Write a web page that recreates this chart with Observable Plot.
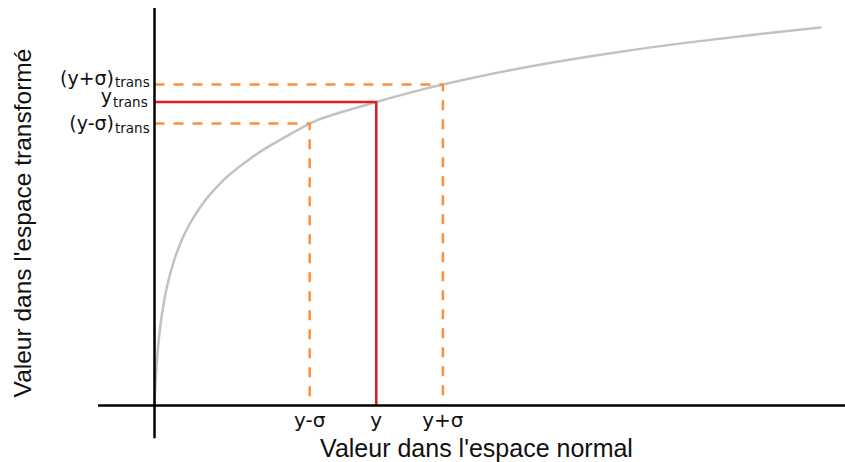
<!DOCTYPE html>
<html><head><meta charset="utf-8">
<script src="https://cdn.jsdelivr.net/npm/d3@7"></script>
<script src="https://cdn.jsdelivr.net/npm/@observablehq/plot@0.6"></script>
<style>html,body{margin:0;padding:0;background:#fff;} #chart svg{display:block;}</style>
</head><body><div id="chart"></div>
<script>
// Curve (normal value -> transformed value)
const curveX = [0, 0.1, 0.25, 0.5, 1, 1.5, 2, 3, 4, 5, 7, 10, 15, 20, 23.3, 30, 33.3, 40, 43.3, 50, 60, 70, 80, 90, 100];
const curveY = [0, 4.0, 8.8, 14.7, 22.7, 28.2, 32.4, 38.7, 43.4, 47.1, 52.8, 59.0, 66.1, 71.4, 74.6, 78.6, 80.3, 83.5, 84.9, 87.5, 90.8, 93.6, 96.0, 98.1, 100];
// Marked points: y-σ, y, y+σ
const xTickLabels = ["y-σ", "y", "y+σ"];
const xValues = [23.3, 33.3, 43.3];
const yValues = [74.6, 80.3, 84.9];
const yTickLabels = ["(y-σ)", "y", "(y+σ)"];
const yTickSubs = ["trans", "trans", "trans"];
const xTitle = "Valeur dans l'espace normal";
const yTitle = "Valeur dans l'espace transformé";

const curve = curveX.map((x, i) => ({x, y: curveY[i]}));
const RED = "#e41a1c", ORANGE = "#fb8f3e";
const tickFont = "DejaVu Sans";

const guideMarks = xValues.map((xv, i) => {
  const yv = yValues[i];
  const isMain = i === 1;
  return Plot.line([{x: 0, y: yv}, {x: xv, y: yv}, {x: xv, y: 0}], {
    x: "x", y: "y",
    stroke: isMain ? RED : ORANGE,
    strokeWidth: 2.5,
    strokeDasharray: isMain ? null : "10,9",
    strokeLinecap: "butt", strokeLinejoin: "miter"
  });
});

// per-label fine offsets (main baseline dy, subscript baseline dy, dx)
const labelOffsets = [[6.6, 9.5, -40], [0.6, 5.3, -42], [0.8, 2.7, -40]];
const yLabelMarks = yValues.flatMap((yv, i) => {
  const [dyMain, dySub, dx] = labelOffsets[i];
  return [
    Plot.text([yv], {y: d => d, frameAnchor: "left", text: () => yTickLabels[i],
      textAnchor: "end", lineAnchor: "bottom", dx: dx - 0.5, dy: dyMain,
      fontSize: 19, fontFamily: tickFont, fill: "#111"}),
    Plot.text([yv], {y: d => d, frameAnchor: "left", text: () => yTickSubs[i],
      textAnchor: "start", lineAnchor: "bottom", dx: dx + 0.5, dy: dySub,
      fontSize: 13.5, fontFamily: tickFont, fill: "#111"})
  ];
});

const chart = Plot.plot({
  width: 845,
  height: 462,
  marginLeft: 154,
  marginRight: 25,
  marginTop: 27,
  marginBottom: 57,
  style: {background: "#fff", overflow: "visible"},
  x: {domain: [0, 100], axis: null, label: null},
  y: {domain: [0, 100], axis: null, label: null},
  marks: [
    Plot.line(curve, {x: "x", y: "y", stroke: "#c2c2c2", strokeWidth: 2.5, curve: "monotone-x"}),
    ...guideMarks,
    Plot.ruleY([0], {x1: -8.4, x2: 104, stroke: "#000", strokeWidth: 2.5}),
    Plot.ruleX([0], {y1: -8.8, y2: 105, stroke: "#000", strokeWidth: 2.5}),
    Plot.text(xValues, {x: d => d, frameAnchor: "bottom", text: (d, i) => xTickLabels[i],
      lineAnchor: "top", dy: 7, fontSize: 20, fontFamily: tickFont, fill: "#111"}),
    ...yLabelMarks,
    Plot.text([xTitle], {frameAnchor: "bottom", text: d => d, lineAnchor: "bottom", textAnchor: "middle",
      dx: -11, dy: 51.7, fontSize: 25, fontFamily: "Liberation Sans", fill: "#111"}),
    Plot.text([yTitle], {frameAnchor: "left", text: d => d, lineAnchor: "bottom", textAnchor: "middle", rotate: -90,
      dx: -123.5, dy: 6.5, fontSize: 24.5, fontFamily: "Liberation Sans", fill: "#111"})
  ]
});
document.getElementById("chart").appendChild(chart);
</script>
</body></html>
